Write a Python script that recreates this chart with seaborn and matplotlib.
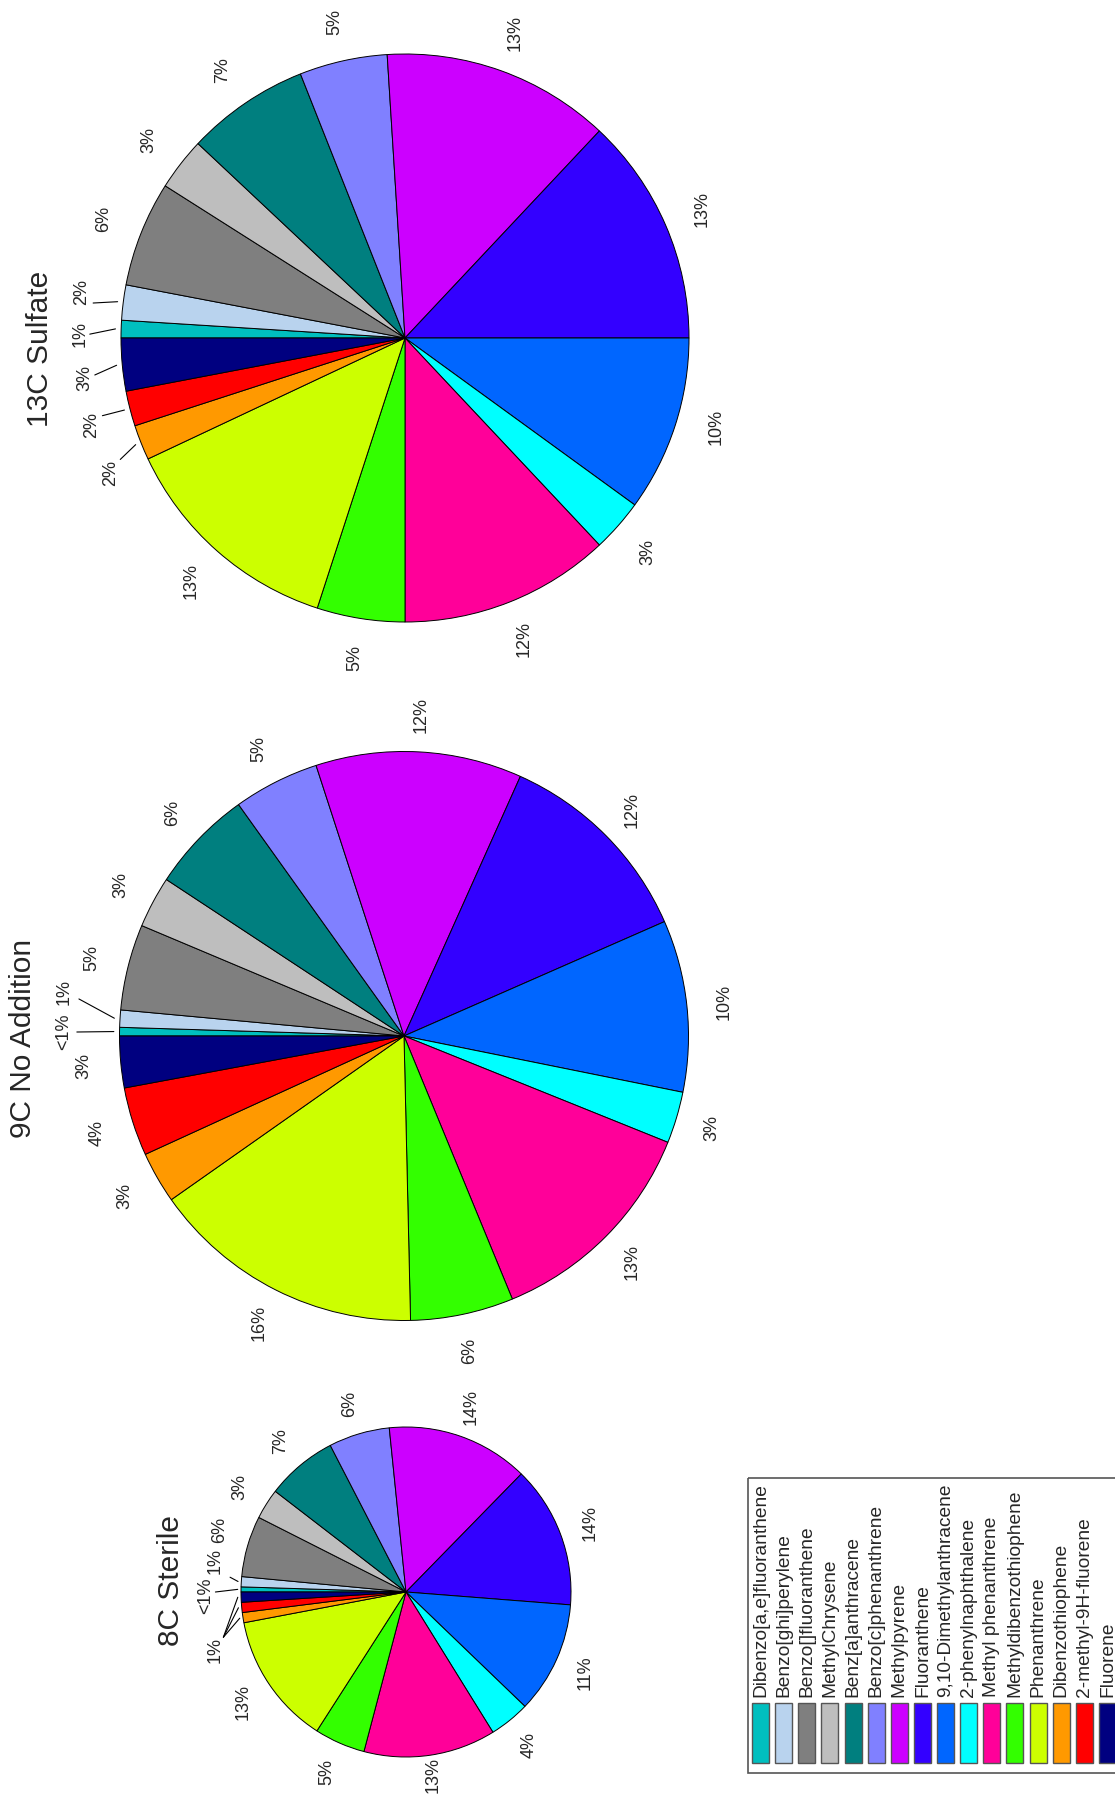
"""
Rotated pie charts of PAH composition for three treatments (8C Sterile, 9C No Addition, 13C Sulfate).
The page is drawn in portrait with all text turned 90 degrees.
"""
import numpy as np
import matplotlib
matplotlib.use('Agg')
import matplotlib.pyplot as plt
from matplotlib.patches import Rectangle
import seaborn as sns

sns.set_style('white')
plt.rcParams['font.family'] = ['Liberation Sans', 'DejaVu Sans']

# Data (percent of total per compound)
compounds = ['Dibenzo[a,e]fluoranthene', 'Benzo[ghi]perylene', 'Benzo[]fluoranthene',
             'MethylChrysene', 'Benz[a]anthracene', 'Benzo[c]phenanthrene', 'Methylpyrene',
             'Fluoranthene', '9,10-Dimethylanthracene', '2-phenylnaphthalene',
             'Methyl phenanthrene', 'Methyldibenzothiophene', 'Phenanthrene',
             'Dibenzothiophene', '2-methyl-9H-fluorene', 'Fluorene']
hex_colors = ['#00BFBF', '#B9D3EE', '#7F7F7F', '#BEBEBE', '#007F7F', '#8080FF', '#CC00FF',
              '#3300FF', '#0066FF', '#00FFFF', '#FF0099', '#33FF00', '#CCFF00',
              '#FF9900', '#FF0000', '#000080']
sterile_8c = [0.5, 1, 6, 3, 7, 6, 14, 14, 11, 4, 13, 5, 13, 1, 1, 1]
noadd_9c = [0.5, 1, 5, 3, 6, 5, 12, 12, 10, 3, 13, 6, 16, 3, 4, 3]
sulfate_13c = [1, 2, 6, 3, 7, 5, 13, 13, 10, 3, 12, 5, 13, 2, 2, 3]
titles = ['8C Sterile', '9C No Addition', '13C Sulfate']

palette = sns.color_palette(hex_colors)

W, H = 1115, 1798

# layout (pixel coords, y down): center, radius, label distance, title position,
# callouts: slice index -> (label angle, label dist, line-end angle, line-end dist)
# nudges: slice index -> (extra angle, label dist) for plain labels
layout = {
    '8C Sterile': dict(center=(406, 1592), radius=165, lab=1.19, title=(171, 1581),
                       callouts={0: (-1.2, 1.215, 0.0, 1.155),
                                 1: (9.3, 1.17, 4.8, 1.07),
                                 13: (-17.0, 1.21, -13.9, 1.14),
                                 14: (-17.0, 1.21, -13.9, 1.14),
                                 15: (-17.0, 1.21, -13.9, 1.14)},
                       nudges={2: (2.3, 1.19), 10: (0.0, 1.12)}),
    '9C No Addition': dict(center=(404, 1036), radius=284.5, lab=1.13, title=(23, 1038),
                           callouts={0: (0.7, 1.195, 0.7, 1.15),
                                     1: (7.4, 1.205, 6.5, 1.15)},
                           nudges={}),
    '13C Sulfate': dict(center=(405, 338), radius=284, lab=1.14, title=(40, 349),
                        callouts={0: (0.7, 1.145, 0.7, 1.11),
                                  1: (8.1, 1.15, 6.4, 1.105),
                                  15: (-7.1, 1.135, -6.8, 1.10),
                                  14: (-15.5, 1.145, -14.4, 1.10),
                                  13: (-24.6, 1.14, -23.1, 1.09)},
                        nudges={8: (-2.0, 1.14)}),
}


def polar(center, d, theta):
    # theta: degrees clockwise (on screen) from the 9 o'clock direction
    phi = np.radians(180 + theta)
    return center[0] + d * np.cos(phi), center[1] + d * np.sin(phi)


def draw_pie(ax, values, cfg):
    vals = np.asarray(values, dtype=float)
    c, r = cfg['center'], cfg['radius']
    ax.pie(vals, colors=palette, startangle=180, counterclock=True, radius=r, center=c,
           wedgeprops=dict(edgecolor='black', linewidth=0.7))
    frac = vals / vals.sum()
    mids = 360 * (np.cumsum(frac) - frac / 2)
    drawn = set()
    for i, v in enumerate(vals):
        txt = '<1%' if v < 1 else f'{v:.0f}%'
        if i in cfg['callouts']:
            lt, ld, et, ed = cfg['callouts'][i]
            x0, y0 = polar(c, r * 1.02, mids[i])
            x1, y1 = polar(c, r * ed, et)
            ax.plot([x0, x1], [y0, y1], color='black', lw=0.8)
            tx, ty = polar(c, r * ld, lt)
        elif i in cfg['nudges']:
            dt, ld = cfg['nudges'][i]
            tx, ty = polar(c, r * ld, mids[i] + dt)
        else:
            tx, ty = polar(c, r * cfg['lab'], mids[i])
        key = (round(tx), round(ty), txt)
        if key in drawn:
            continue
        drawn.add(key)
        ax.text(tx, ty, txt, rotation=90, ha='center', va='center', fontsize=13)


fig = plt.figure(figsize=(W / 100, H / 100), dpi=100)
ax = fig.add_axes([0, 0, 1, 1])

for title, values in zip(titles, [sterile_8c, noadd_9c, sulfate_13c]):
    cfg = layout[title]
    draw_pie(ax, values, cfg)
    ax.text(cfg['title'][0], cfg['title'][1], title, rotation=90, ha='center', va='center',
            fontsize=21.5)

# legend (drawn by hand so the text can run vertically)
ax.add_patch(Rectangle((748, 1478), 400, 295, facecolor='none', edgecolor='#555555', lw=1.2))
for i, (name, col) in enumerate(zip(compounds, palette)):
    x = 752 + i * 23.13
    ax.add_patch(Rectangle((x, 1703), 17, 60, facecolor=col, edgecolor='#555555', lw=1))
    ax.text(x + 8.5, 1697, name, rotation=90, ha='center', va='bottom', fontsize=13.8)

ax.set_xlim(0, W)
ax.set_ylim(H, 0)
ax.set_aspect('equal')
ax.axis('off')

fig.savefig('out.png', dpi=100)
